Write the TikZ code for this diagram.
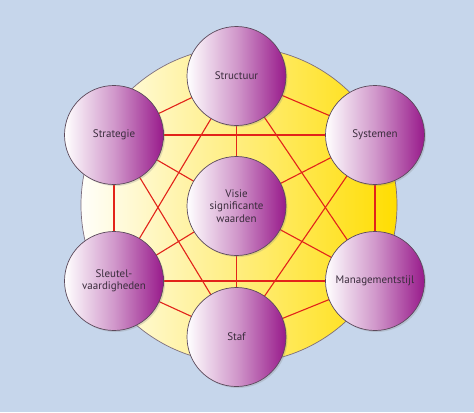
\documentclass[tikz,border=0pt]{standalone}
\usepackage{fontspec}
\setmainfont{PT Sans}
\usetikzlibrary{shadows}
\pgfdeclarelayer{back}
\pgfdeclarelayer{bg}
\pgfsetlayers{back,bg,main}
\definecolor{backblue}{HTML}{C6D6EB}
\definecolor{ballpurple}{HTML}{981A8B}
\definecolor{ballline}{HTML}{5C4A5C}
\definecolor{linkred}{HTML}{E2231A}
\definecolor{goldright}{HTML}{FFDD00}
\definecolor{goldmid}{HTML}{FFF0A0}
\definecolor{labelgrey}{HTML}{3A2C3C}
\tikzset{
    ball/.style={circle, minimum size=99bp, inner sep=0pt, draw=ballline, line width=0.7bp,
        left color=white, right color=ballpurple, middle color=ballpurple!45!white,
        drop shadow={opacity=0.25, shadow xshift=1.5bp, shadow yshift=-1.5bp},
        font=\fontsize{11}{12.5}\selectfont, text=labelgrey, align=center},
    link/.style={linkred, line width=1.1bp}
}
\begin{document}
\begin{tikzpicture}[x=1bp, y=-1bp]
            \begin{pgfonlayer}{back}
                \fill[backblue] (0, 0) rectangle (474, 412);
            \end{pgfonlayer}
            \useasboundingbox (0, 0) rectangle (474, 412);
            %\draw[lightgray] (0, 0) grid[step=50] (474, 412);
            \node[ball] (structuur) at (236.5, 76) {Structuur};
            \node[ball] (strategie) at (114, 135) {Strategie};
            \node[ball] (systemen) at (375, 135) {Systemen};
            \node[ball] (sleutel) at (114, 281) {Sleutel-\\vaardigheden};
            \node[ball] (management) at (375, 281) {Managementstijl};
            \node[ball] (staf) at (236.5, 337) {Staf};
            \node[ball] (visie) at (236.5, 206) {Visie\\significante\\waarden};

            \begin{pgfonlayer}{bg}
                \node[circle, minimum size=316bp, inner sep=0pt, draw=ballline!80, line width=0.7bp,
                    left color=white!95!goldmid, middle color=goldmid, right color=goldright] (schijf) at (239, 205) {};
                \foreach \a/\b in {structuur/strategie, structuur/systemen, structuur/visie,
                        structuur/sleutel, structuur/management,
                        strategie/systemen, strategie/sleutel, strategie/visie, strategie/staf,
                        systemen/management, systemen/visie, systemen/staf,
                        sleutel/management, sleutel/visie, sleutel/staf,
                        management/visie, management/staf, staf/visie}
                    \draw[link] (\a.center) -- (\b.center);
            \end{pgfonlayer}
\end{tikzpicture}
\end{document}
